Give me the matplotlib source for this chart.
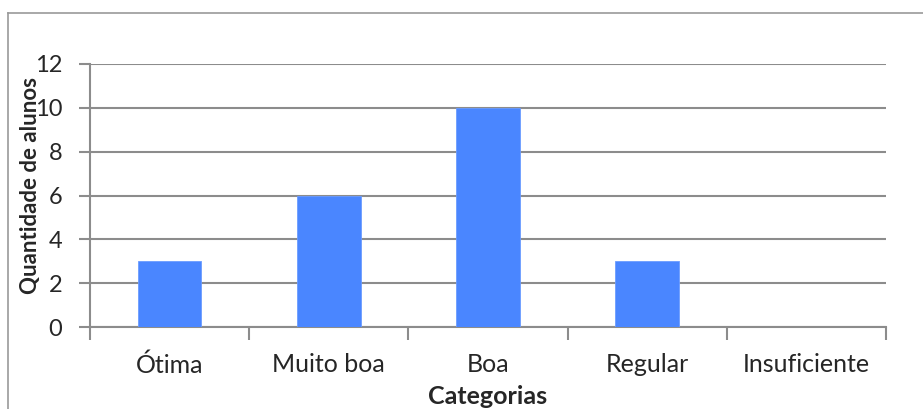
import matplotlib
matplotlib.use("Agg")
import matplotlib.pyplot as plt
import numpy as np

categorias = ["Ótima", "Muito boa", "Boa", "Regular", "Insuficiente"]
alunos = [3, 6, 10, 3, 0]
y_ticks = [0, 2, 4, 6, 8, 10, 12]

plt.rcParams['font.family'] = ['Lato', 'DejaVu Sans']
text_color = '#262626'
grid_color = '#8c8c8c'

fig = plt.figure(figsize=(9.23, 4.09), dpi=100)
ax = fig.add_axes([90/923, 1 - 327/409, (886 - 90)/923, (327 - 64)/409])

x = np.arange(len(categorias))
ax.bar(x, alunos, width=0.4, color='#4a86ff', edgecolor='#6b9cff', linewidth=0.6, zorder=3)

ax.set_xlim(-0.5, len(categorias) - 0.5)
ax.set_ylim(0, 12)
ax.set_yticks(y_ticks)
ax.set_yticklabels([str(v) for v in y_ticks], fontsize=17, color=text_color)
ax.set_xticks(x)
ax.set_xticklabels(categorias, fontsize=18, color=text_color)
ax.tick_params(axis='x', length=0, pad=19)
ax.set_xticks(np.arange(-0.5, len(categorias)), minor=True)
ax.tick_params(axis='x', which='minor', length=9, width=1.5, color=grid_color, direction='out')
ax.tick_params(axis='y', length=8, width=1.5, color=grid_color, pad=12)

ax.grid(axis='y', color=grid_color, linewidth=1.5, zorder=0)
for s in ['top', 'right']:
    ax.spines[s].set_visible(False)
ax.spines['left'].set_color(grid_color)
ax.spines['left'].set_linewidth(1.5)
ax.spines['bottom'].set_color(grid_color)
ax.spines['bottom'].set_linewidth(1.5)

ax.set_ylabel("Quantidade de alunos", fontsize=16, fontweight='bold', color=text_color)
ax.yaxis.set_label_coords(-49/796, (327 - 186)/263)
ax.set_xlabel("Categorias", fontsize=18, fontweight='bold', color=text_color, labelpad=6)

# chart border (left and top edges visible)
fig.add_artist(plt.Line2D([8/923, 8/923], [0, 1 - 13/409], transform=fig.transFigure, color='#999999', linewidth=1.2))
fig.add_artist(plt.Line2D([8/923, 1], [1 - 13/409, 1 - 13/409], transform=fig.transFigure, color='#999999', linewidth=1.2))

fig.savefig("out.png", dpi=100)
